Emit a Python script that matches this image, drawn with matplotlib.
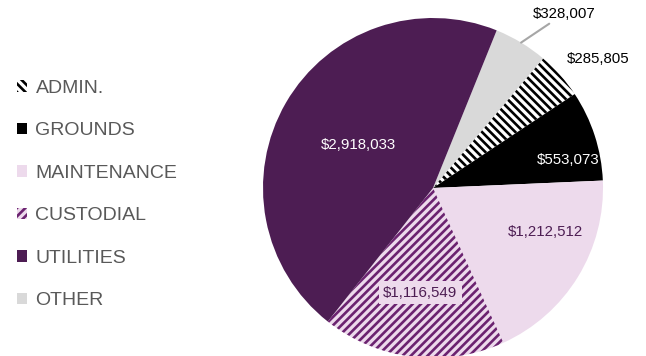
import matplotlib
matplotlib.use("Agg")
import matplotlib.pyplot as plt
from matplotlib.patches import Patch
import numpy as np

categories = ["OTHER", "ADMIN.", "GROUNDS", "MAINTENANCE", "CUSTODIAL", "UTILITIES"]
values = [328007, 285805, 553073, 1212512, 1116549, 2918033]
value_labels = ["$328,007", "$285,805", "$553,073", "$1,212,512", "$1,116,549", "$2,918,033"]
legend_order = ["ADMIN.", "GROUNDS", "MAINTENANCE", "CUSTODIAL", "UTILITIES", "OTHER"]

FONT = ["Liberation Sans Narrow", "Liberation Sans", "DejaVu Sans"]
plt.rcParams['font.family'] = FONT
plt.rcParams['hatch.linewidth'] = 1.9

styles = {
    "OTHER": dict(facecolor="#D9D9D9", edgecolor="#D9D9D9", hatch=None),
    "ADMIN.": dict(facecolor="white", edgecolor="black", hatch="\\\\\\\\"),
    "GROUNDS": dict(facecolor="black", edgecolor="black", hatch=None),
    "MAINTENANCE": dict(facecolor="#EDDAEC", edgecolor="#EDDAEC", hatch=None),
    "CUSTODIAL": dict(facecolor="#EDDAEC", edgecolor="#6B2370", hatch="////"),
    "UTILITIES": dict(facecolor="#4D1D53", edgecolor="#4D1D53", hatch=None),
}

W, H = 646, 356
fig = plt.figure(figsize=(W / 100, H / 100), dpi=100)
cx, cy, R = 433, 188, 170
ax = fig.add_axes([(cx - R) / W, (H - cy - R) / H, 2 * R / W, 2 * R / H])

wedges, _ = ax.pie(values, startangle=68, counterclock=False, radius=1,
                   wedgeprops=dict(linewidth=0))
ax.set_xlim(-1, 1)
ax.set_ylim(-1, 1)
ax.set_aspect("equal")
ax.axis("off")
for w, c in zip(wedges, categories):
    st = styles[c]
    w.set_facecolor(st["facecolor"])
    w.set_edgecolor(st["edgecolor"])
    w.set_linewidth(0)
    w.set_clip_on(False)
    if st["hatch"]:
        w.set_hatch(st["hatch"])

# label placement: (radius, angle offset deg, color, bbox)
lab_style = {
    "ADMIN.": (1.235, -3.5, "black", False),
    "GROUNDS": (0.81, -6.5, "white", False),
    "MAINTENANCE": (0.71, 10, "#4D1D53", False),
    "CUSTODIAL": (0.62, 0, "#4D1D53", True),
    "UTILITIES": (0.51, 0, "white", False),
}
FS = 10.8
for w, c, lab in zip(wedges, categories, value_labels):
    mid = np.deg2rad((w.theta1 + w.theta2) / 2)
    if c == "OTHER":
        p0 = (np.cos(mid), np.sin(mid))
        ax.annotate(lab, xy=p0, xytext=(0.585, 1.024), ha="left", va="center",
                    fontsize=FS, color="black",
                    arrowprops=dict(arrowstyle="-", color="#A6A6A6", lw=1.5,
                                    shrinkA=0, shrinkB=0,
                                    connectionstyle="arc3"),
                    annotation_clip=False)
        continue
    r, dth, col, box = lab_style[c]
    a = mid + np.deg2rad(dth)
    kw = {}
    if box:
        kw["bbox"] = dict(boxstyle="square,pad=0.3", facecolor="#EDDAEC", edgecolor="none")
    ax.text(r * np.cos(a), r * np.sin(a), lab, ha="center", va="center",
            fontsize=FS, color=col, clip_on=False, **kw)

handles = []
for c in legend_order:
    st = styles[c]
    handles.append(Patch(facecolor=st["facecolor"], edgecolor=st["edgecolor"],
                         hatch=st["hatch"], linewidth=0, label=c))
leg = fig.legend(handles=handles, loc="upper left", bbox_to_anchor=(17 / W, 1 - 80 / H),
                 frameon=False, fontsize=14, handlelength=0.53, handleheight=0.53,
                 handletextpad=0.42, labelspacing=1.31, borderpad=0, borderaxespad=0)
for t in leg.get_texts():
    t.set_color("#595959")

fig.savefig("out.png", dpi=100)
